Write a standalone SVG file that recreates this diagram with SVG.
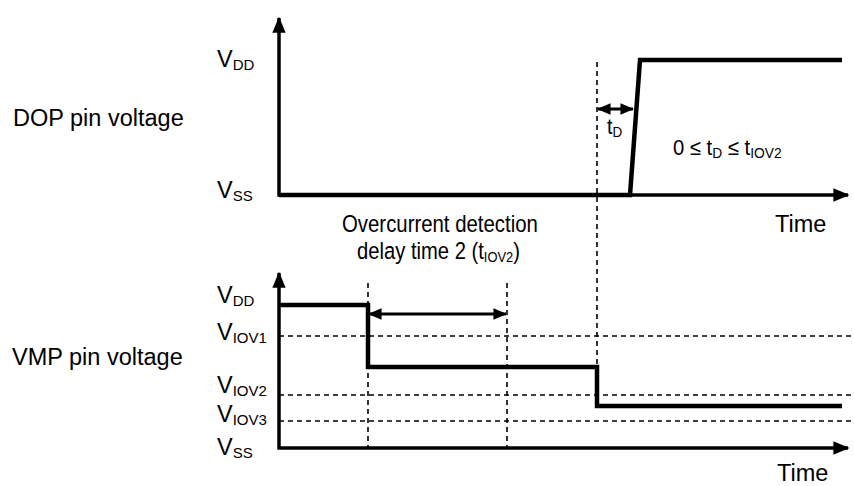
<svg xmlns="http://www.w3.org/2000/svg" width="854" height="486" viewBox="0 0 854 486">
<style>
text{font-family:"Liberation Sans",Arial,sans-serif;fill:#000}
.lab{font-size:23.5px}
.sm{font-size:22px}
.sub{font-size:15px}
.axis{stroke:#000;stroke-width:3.5;fill:none}
.sig{stroke:#000;stroke-width:4.5;fill:none;stroke-linejoin:miter}
.dash{stroke:#000;stroke-width:1.6;stroke-dasharray:5,4;fill:none}
.arr{stroke:#000;stroke-width:3;fill:none}
</style>
<defs>
<marker id="ah" viewBox="0 0 12 10" refX="11" refY="5" markerWidth="4.6" markerHeight="3.8" orient="auto-start-reverse" markerUnits="strokeWidth">
<path d="M0,0 L12,5 L0,10 z" fill="#000"/>
</marker>
</defs>
<rect width="854" height="486" fill="#fff"/>
<g id="top-axes">
<polyline class="axis" points="279,18 279,195 848,195" marker-start="url(#ah)" marker-end="url(#ah)"/>
</g>
<g id="bottom-axes">
<polyline class="axis" points="279,273 279,448 848,448" marker-start="url(#ah)" marker-end="url(#ah)"/>
</g>
<g id="connectors">
<line class="dash" x1="597" y1="62" x2="597" y2="370"/>
<line class="dash" x1="368" y1="283" x2="368" y2="448"/>
<line class="dash" x1="507" y1="283" x2="507" y2="448"/>
<line class="dash" x1="279" y1="336" x2="852" y2="336"/>
<line class="dash" x1="279" y1="395" x2="852" y2="395"/>
<line class="dash" x1="279" y1="421" x2="852" y2="421"/>
<line class="arr" x1="598" y1="109" x2="633" y2="109" marker-start="url(#ah)" marker-end="url(#ah)"/>
<line class="arr" x1="369" y1="314" x2="506" y2="314" marker-start="url(#ah)" marker-end="url(#ah)"/>
</g>
<g id="dop-signal">
<polyline class="sig" points="279,195 630,195 640,60 842,60"/>
</g>
<g id="vmp-signal">
<polyline class="sig" points="279,305 368,305 368,367 597,367 597,406 842,406"/>
</g>
<g id="labels">
<text class="lab" x="13" y="126">DOP pin voltage</text>
<text class="lab" x="12" y="365">VMP pin voltage</text>
<text class="lab" x="217" y="67">V<tspan class="sub" dy="3">DD</tspan></text>
<text class="lab" x="217" y="198">V<tspan class="sub" dy="3">SS</tspan></text>
<text class="lab" x="217" y="303">V<tspan class="sub" dy="3">DD</tspan></text>
<text class="lab" x="217" y="340">V<tspan class="sub" dy="3">IOV1</tspan></text>
<text class="lab" x="217" y="393">V<tspan class="sub" dy="3">IOV2</tspan></text>
<text class="lab" x="217" y="422">V<tspan class="sub" dy="3">IOV3</tspan></text>
<text class="lab" x="217" y="455">V<tspan class="sub" dy="3">SS</tspan></text>
<text class="sm" transform="translate(607,134) scale(0.9,1)">t<tspan class="sub" dy="3">D</tspan></text>
<text class="sm" transform="translate(673,155) scale(0.92,1)">0 ≤ t<tspan class="sub" dy="3">D</tspan><tspan dy="-3"> ≤ t</tspan><tspan class="sub" dy="3">IOV2</tspan></text>
<text class="lab" x="775" y="232">Time</text>
<text class="lab" x="777" y="481">Time</text>
<text class="lab" transform="translate(342,232) scale(0.867,1)">Overcurrent detection</text>
<text class="lab" transform="translate(357,259) scale(0.86,1)">delay time 2 (t<tspan class="sub" dy="3">IOV2</tspan><tspan dy="-3">)</tspan></text>
</g>
</svg>
